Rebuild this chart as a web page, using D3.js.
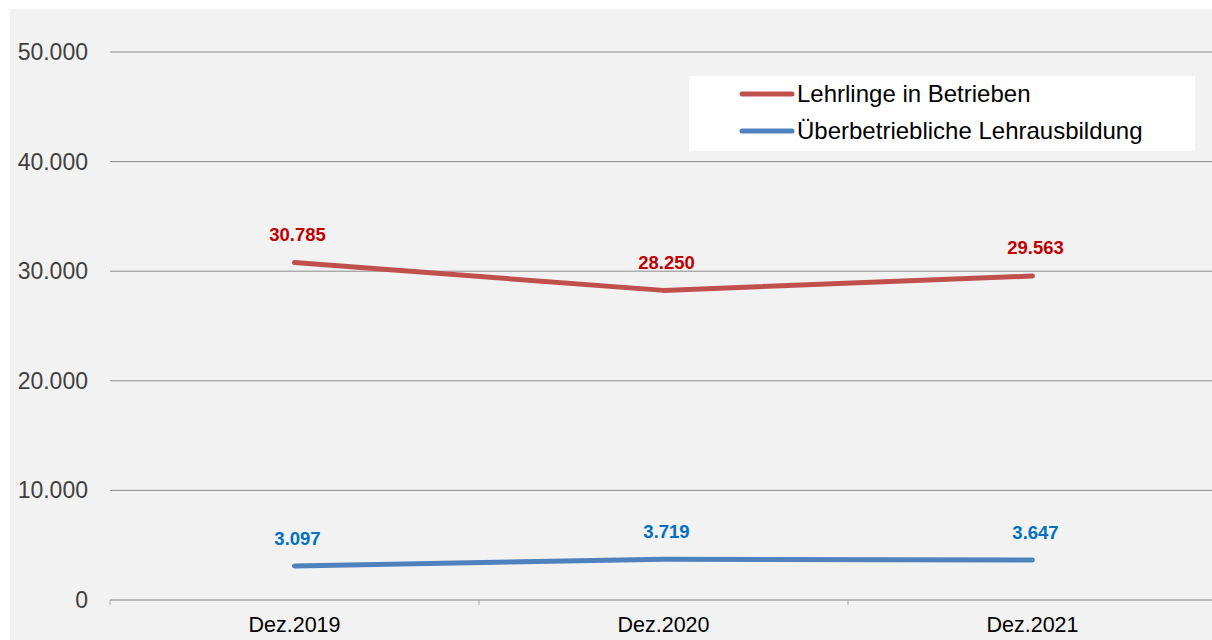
<!DOCTYPE html>
<html>
<head>
<meta charset="utf-8">
<script src="https://cdn.jsdelivr.net/npm/d3@7"></script>
<style>
  body { margin: 0; background: #ffffff; }
  text { font-family: "Liberation Sans", Arial, sans-serif; }
</style>
</head>
<body>
<script>
// Daten
var categories = ["Dez.2019", "Dez.2020", "Dez.2021"];
var betriebe = [30785, 28250, 29563];
var ueba = [3097, 3719, 3647];
var yTicks = [0, 10000, 20000, 30000, 40000, 50000];
var seriesNames = ["Lehrlinge in Betrieben", "Überbetriebliche Lehrausbildung"];

var width = 1212, height = 640;

var svg = d3.select("body")
            .append("svg")
            .attr("width", width)
            .attr("height", height);

// Hintergrund
svg.append("rect")
   .attr("x", 10).attr("y", 9)
   .attr("width", width - 10).attr("height", height - 9)
   .attr("fill", "#f2f2f2");

var x = d3.scaleBand().domain(categories).range([110, 1217]);
var y = d3.scaleLinear().domain([0, 50000]).range([600, 52]);

var fmt = function(v) { return d3.format(",")(v).replace(/,/g, "."); };

// Gitterlinien
svg.selectAll("line.grid")
   .data(yTicks.slice(1))
   .enter()
   .append("line")
   .attr("class", "grid")
   .attr("x1", 110).attr("x2", width)
   .attr("y1", function(d) { return y(d); })
   .attr("y2", function(d) { return y(d); })
   .style("stroke", "#8c8c8c")
   .style("stroke-width", 1);

// y-Beschriftung
svg.selectAll("text.ytick")
   .data(yTicks)
   .enter()
   .append("text")
   .attr("class", "ytick")
   .attr("x", 88)
   .attr("y", function(d) { return y(d); })
   .attr("dy", "0.35em")
   .attr("text-anchor", "end")
   .attr("font-size", "23px")
   .attr("fill", "#404040")
   .text(function(d) { return fmt(d); });

// x-Achse
var xAxis = svg.append("g")
   .attr("transform", "translate(0,600)")
   .call(d3.axisBottom(x).tickSize(0).tickPadding(17));
xAxis.select(".domain").remove();
xAxis.selectAll("text")
   .attr("font-size", "21.5px")
   .attr("fill", "#000000")
   .style("font-family", "Liberation Sans, Arial, sans-serif");

svg.append("line")
   .attr("x1", 110).attr("x2", width)
   .attr("y1", 600).attr("y2", 600)
   .style("stroke", "#a6a6a6").style("stroke-width", 1.5);

var bounds = [110].concat(categories.map(function(c) { return x(c) + x.bandwidth(); }));
svg.selectAll("line.xtick")
   .data(bounds)
   .enter()
   .append("line")
   .attr("class", "xtick")
   .attr("x1", function(d) { return d; }).attr("x2", function(d) { return d; })
   .attr("y1", 600).attr("y2", 605)
   .style("stroke", "#a6a6a6").style("stroke-width", 1);

var series = [
  {name: seriesNames[0], values: betriebe, color: "#c0504d", label: "#c00000"},
  {name: seriesNames[1], values: ueba, color: "#4f81bd", label: "#0070c0"}
];

var line = d3.line()
   .x(function(d, i) { return x(categories[i]) + x.bandwidth() / 2; })
   .y(function(d) { return y(d); });

series.forEach(function(s) {
  svg.append("path")
     .datum(s.values)
     .attr("d", line)
     .attr("fill", "none")
     .attr("stroke", s.color)
     .attr("stroke-width", 5)
     .attr("stroke-linecap", "round")
     .attr("stroke-linejoin", "round");

  svg.selectAll(null)
     .data(s.values)
     .enter()
     .append("text")
     .attr("x", function(d, i) { return x(categories[i]) + x.bandwidth() / 2 + 3; })
     .attr("y", function(d) { return y(d) - 28; })
     .attr("dy", "0.35em")
     .attr("text-anchor", "middle")
     .attr("font-size", "18.5px")
     .attr("font-weight", "bold")
     .attr("fill", s.label)
     .text(function(d) { return fmt(d); });
});

// Legende
var legend = svg.append("g");
legend.append("rect")
   .attr("x", 689).attr("y", 76)
   .attr("width", 506).attr("height", 75)
   .attr("fill", "#ffffff");

legend.selectAll("line.leg")
   .data(series)
   .enter()
   .append("line")
   .attr("x1", 742).attr("x2", 792)
   .attr("y1", function(d, i) { return 94 + i * 37; })
   .attr("y2", function(d, i) { return 94 + i * 37; })
   .attr("stroke", function(d) { return d.color; })
   .attr("stroke-width", 5)
   .attr("stroke-linecap", "round");

legend.selectAll("text.leg")
   .data(series)
   .enter()
   .append("text")
   .attr("x", 797)
   .attr("y", function(d, i) { return 94 + i * 37; })
   .attr("dy", "0.35em")
   .attr("font-size", "24px")
   .attr("fill", "#000000")
   .text(function(d) { return d.name; });
</script>
</body>
</html>
